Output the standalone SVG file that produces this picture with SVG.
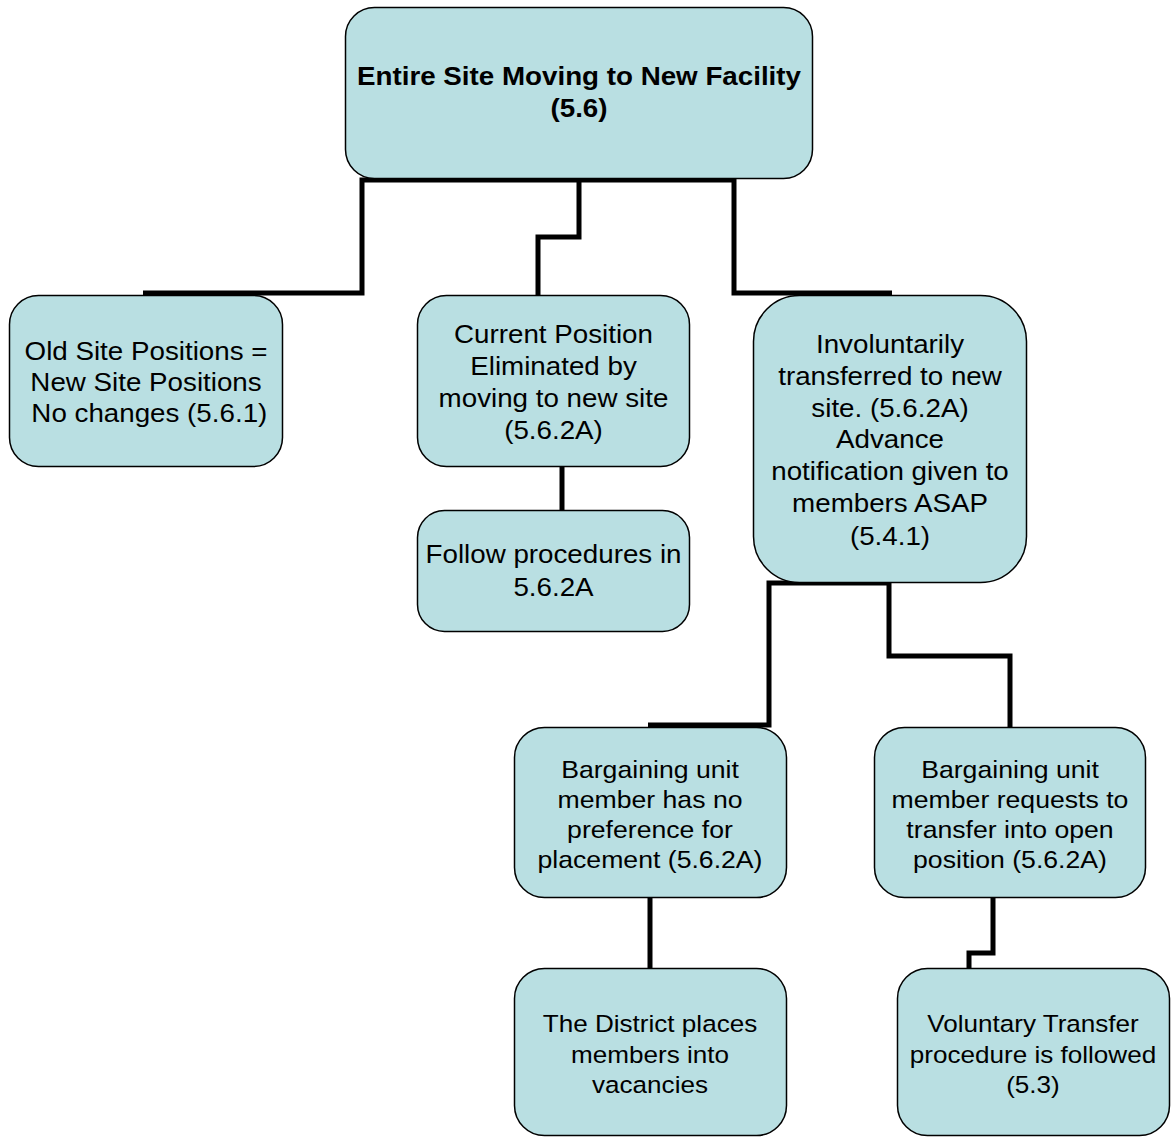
<svg xmlns="http://www.w3.org/2000/svg" width="1175" height="1137" viewBox="0 0 1175 1137">
<style>
.box{fill:#b9dfe2;stroke:#000;stroke-width:1.5}
.t{font-family:"Liberation Sans",Arial,sans-serif;font-size:25px;fill:#000;text-anchor:middle}
.b{font-weight:bold}
.s24{font-size:24px}
.s23{font-size:23.5px}
.c{fill:none;stroke:#000;stroke-width:5;stroke-linejoin:miter;stroke-linecap:butt}
</style>
<rect width="1175" height="1137" fill="#fff"/>
<g id="connectors">
<path class="c" d="M579,180 H362 V293 H143"/>
<path class="c" d="M579,180 V237 H538 V296"/>
<path class="c" d="M579,180 H734 V293 H892"/>
<path class="c" d="M562,466 V511"/>
<path class="c" d="M890,583 H769 V725 H648"/>
<path class="c" d="M889,583 V656 H1010 V728"/>
<path class="c" d="M650,897 V969"/>
<path class="c" d="M993,897 V953 H969 V969"/>
</g>
<g id="n-top">
<rect class="box" x="345.5" y="7.5" width="467" height="171" rx="29"/>
<text class="t b" transform="matrix(1.11 0 0 1 579 0)"><tspan x="0" y="85">Entire Site Moving to New Facility</tspan><tspan x="0" y="117">(5.6)</tspan></text>
</g>
<g id="n-old">
<rect class="box" x="9.5" y="295.5" width="273" height="171" rx="29"/>
<text class="t" transform="matrix(1.11 0 0 1 146 0)"><tspan x="0" y="360">Old Site Positions =</tspan><tspan x="0" y="391">New Site Positions</tspan><tspan x="3" y="422">No changes (5.6.1)</tspan></text>
</g>
<g id="n-current">
<rect class="box" x="417.5" y="295.5" width="272" height="171" rx="29"/>
<text class="t" transform="matrix(1.11 0 0 1 553.5 0)"><tspan x="0" y="343">Current Position</tspan><tspan x="0" y="375">Eliminated by</tspan><tspan x="0" y="407">moving to new site</tspan><tspan x="0" y="439">(5.6.2A)</tspan></text>
</g>
<g id="n-follow">
<rect class="box" x="417.5" y="510.5" width="272" height="121" rx="27"/>
<text class="t" transform="matrix(1.11 0 0 1 553.5 0)"><tspan x="0" y="563">Follow procedures in</tspan><tspan x="0" y="596">5.6.2A</tspan></text>
</g>
<g id="n-invol">
<rect class="box" x="753.5" y="295.5" width="273" height="287" rx="46"/>
<text class="t" transform="matrix(1.11 0 0 1 890 0)"><tspan x="0" y="353">Involuntarily</tspan><tspan x="0" y="385">transferred to new</tspan><tspan x="0" y="417">site. (5.6.2A)</tspan><tspan x="0" y="448">Advance</tspan><tspan x="0" y="480">notification given to</tspan><tspan x="0" y="512">members ASAP</tspan><tspan x="0" y="545">(5.4.1)</tspan></text>
</g>
<g id="n-nopref">
<rect class="box" x="514.5" y="727.5" width="272" height="170" rx="30"/>
<text class="t s24" transform="matrix(1.11 0 0 1 650 0)"><tspan x="0" y="778">Bargaining unit</tspan><tspan x="0" y="808">member has no</tspan><tspan x="0" y="838">preference for</tspan><tspan x="0" y="868">placement (5.6.2A)</tspan></text>
</g>
<g id="n-request">
<rect class="box" x="874.5" y="727.5" width="271" height="170" rx="30"/>
<text class="t s24" transform="matrix(1.11 0 0 1 1010 0)"><tspan x="0" y="778">Bargaining unit</tspan><tspan x="0" y="808">member requests to</tspan><tspan x="0" y="838">transfer into open</tspan><tspan x="0" y="868">position (5.6.2A)</tspan></text>
</g>
<g id="n-district">
<rect class="box" x="514.5" y="968.5" width="272" height="167" rx="30"/>
<text class="t s23" transform="matrix(1.11 0 0 1 650 0)"><tspan x="0" y="1032">The District places</tspan><tspan x="0" y="1063">members into</tspan><tspan x="0" y="1093">vacancies</tspan></text>
</g>
<g id="n-voluntary">
<rect class="box" x="897.5" y="968.5" width="272" height="167" rx="30"/>
<text class="t s23" transform="matrix(1.11 0 0 1 1033 0)"><tspan x="0" y="1032">Voluntary Transfer</tspan><tspan x="0" y="1063">procedure is followed</tspan><tspan x="0" y="1093">(5.3)</tspan></text>
</g>
</svg>
